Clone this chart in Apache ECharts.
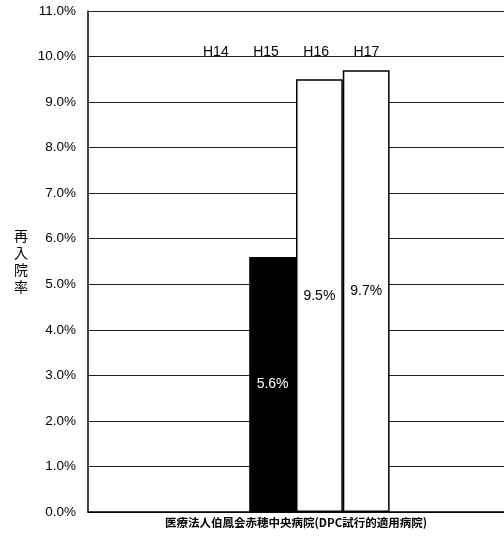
<!DOCTYPE html>
<html><head><meta charset="utf-8">
<script src="https://cdn.jsdelivr.net/npm/echarts@6/dist/echarts.min.js"></script>
<style>html,body{margin:0;padding:0;background:#fff}#c{width:504px;height:537px}</style>
</head><body><div id="c"></div>
<script>
var categories = ['医療法人伯鳳会赤穂中央病院(DPC試行的適用病院)'];
var seriesNames = ['H14', 'H15', 'H16', 'H17'];
var h14 = [null];
var h15 = [5.6];
var h16 = [9.5];
var h17 = [9.7];
var yMin = 0, yMax = 11, yStep = 1;

var values = [h14, h15, h16, h17];
var fills = ['#ffffff', '#000000', '#ffffff', '#ffffff'];
var labelColors = ['#000', '#fff', '#000', '#000'];
var chart = echarts.init(document.getElementById('c'));
var series = seriesNames.map(function (n, i) {
  return {
    name: n, type: 'bar', data: values[i], barWidth: 46.8, barGap: '0%',
    itemStyle: { color: fills[i], borderColor: '#000', borderWidth: 1.5 },
    label: { show: true, position: 'inside', color: labelColors[i], fontSize: 14,
      fontFamily: 'Liberation Sans, Arial, sans-serif',
      formatter: function (p) { return p.value == null ? '' : p.value.toFixed(1) + '%'; } }
  };
});
chart.setOption({
  animation: false,
  backgroundColor: '#fff',
  grid: { left: 88, right: 0, top: 11, bottom: 25, containLabel: false },
  legend: {
    data: seriesNames, top: 40, left: 192, itemWidth: 0, itemHeight: 0, itemGap: 18.5,
    icon: 'rect', selectedMode: false,
    textStyle: { fontSize: 14, color: '#000', fontFamily: 'Liberation Sans, Arial, sans-serif', padding: 0 }
  },
  xAxis: {
    type: 'category', data: categories,
    axisLine: { lineStyle: { color: '#000', width: 1.5 } },
    axisTick: { show: false },
    axisLabel: { color: '#000', fontSize: 11.5, fontWeight: 'bold', margin: 5,
      fontFamily: 'Noto Sans CJK JP, sans-serif' }
  },
  yAxis: {
    type: 'value', min: yMin, max: yMax, interval: yStep,
    name: '再\n入\n院\n率', nameLocation: 'middle', nameRotate: 0, nameGap: 60,
    nameTextStyle: { fontSize: 14, color: '#000', lineHeight: 17, padding: [0, 0, 16, 0],
      fontFamily: 'Noto Sans CJK JP, sans-serif' },
    axisLine: { show: true, lineStyle: { color: '#000', width: 1.5 } },
    axisTick: { show: false },
    splitLine: { lineStyle: { color: '#222', width: 1 } },
    axisLabel: { color: '#000', fontSize: 13.5, margin: 12,
      fontFamily: 'Liberation Sans, Arial, sans-serif',
      formatter: function (v) { return v.toFixed(1) + '%'; } }
  },
  series: series
});
</script></body></html>
